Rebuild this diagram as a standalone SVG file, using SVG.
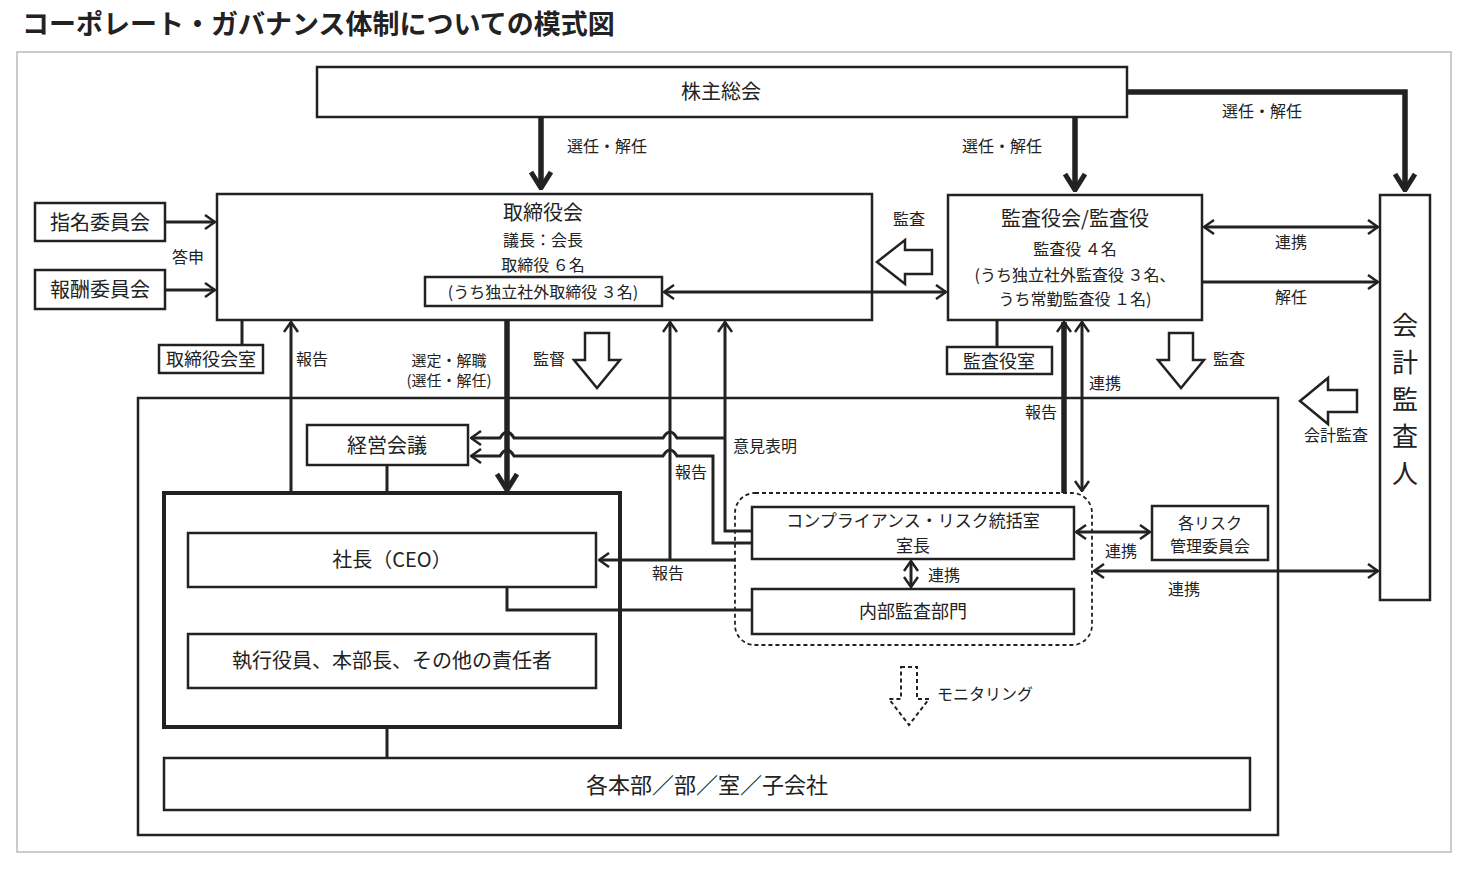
<svg xmlns="http://www.w3.org/2000/svg" width="1470" height="870" viewBox="0 0 1470 870">
<style>
text{font-family:"Noto Sans CJK JP","Noto Sans",sans-serif;fill:#222}
.b{fill:#fff;stroke:#222;stroke-width:2.5}
.l{fill:none;stroke:#222;stroke-width:3}
.t{fill:none;stroke:#222;stroke-width:5.5}
.h{fill:#fff;stroke:#222;stroke-width:2.5}
.lb{font-size:16px}
.n{font-size:20px;text-anchor:middle}
</style>
<defs>
<marker id="a" viewBox="0 0 12 16" refX="11" refY="8" markerWidth="12" markerHeight="16" markerUnits="userSpaceOnUse" orient="auto-start-reverse"><path d="M1,1 L11,8 L1,15" fill="none" stroke="#222" stroke-width="2.5"/></marker>
<marker id="A" viewBox="0 0 20 24" refX="18" refY="12" markerWidth="20" markerHeight="24" markerUnits="userSpaceOnUse" orient="auto"><path d="M2,2 L18,12 L2,22" fill="none" stroke="#222" stroke-width="5"/></marker>
</defs>
<rect width="1470" height="870" fill="#fff"/>
<text x="22" y="34" font-size="27" font-weight="bold">コーポレート・ガバナンス体制についての模式図</text>
<rect x="17" y="52" width="1434" height="800" fill="none" stroke="#bbb" stroke-width="1.5"/>
<g id="outer"><rect x="138" y="398" width="1140" height="437" fill="none" stroke="#222" stroke-width="2.5"/></g>

<g id="hollow">
<path class="h" d="M585,333 H609 V360 H620 L597,388 L574,360 H585 Z"/>
<path class="h" d="M1169,333 H1193 V360 H1204 L1181,388 L1158,360 H1169 Z"/>
<path class="h" d="M932,250 H905 V240 L877,262 L905,284 V274 H932 Z"/>
<path class="h" d="M1357,390 H1328 V378 L1300,401 L1328,424 V412 H1357 Z"/>
<path d="M901,667 H917 V699 H929 L909,725 L889,699 H901 Z" fill="#fff" stroke="#222" stroke-width="2" stroke-dasharray="4,3"/>
</g>

<g id="labels" class="lb">
<text x="567" y="152">選任・解任</text>
<text x="962" y="152">選任・解任</text>
<text x="1222" y="117">選任・解任</text>
<text x="172" y="263">答申</text>
<text x="893" y="225">監査</text>
<text x="801" y="282">連携</text>
<text x="1275" y="248">連携</text>
<text x="1275" y="303">解任</text>
<text x="296" y="365">報告</text>
<text x="449" y="366" font-size="15" text-anchor="middle">選定・解職</text>
<text x="449" y="386" font-size="15" text-anchor="middle">(選任・解任)</text>
<text x="533" y="365">監督</text>
<text x="1213" y="365">監査</text>
<text x="1089" y="389">連携</text>
<text x="1025" y="418">報告</text>
<text x="1304" y="441">会計監査</text>
<text x="733" y="452">意見表明</text>
<text x="675" y="478">報告</text>
<text x="652" y="579">報告</text>
<text x="928" y="581">連携</text>
<text x="1105" y="557">連携</text>
<text x="1168" y="595">連携</text>
<text x="937" y="700">モニタリング</text>
</g>

<g id="n-kabunushi"><rect class="b" x="317" y="67" width="810" height="50"/><text class="n" x="721" y="99">株主総会</text></g>
<g id="n-board"><rect class="b" x="217" y="194" width="655" height="126"/>
<text class="n" x="543" y="220">取締役会</text>
<text x="543" y="246" font-size="16" text-anchor="middle">議長：会長</text>
<text x="543" y="271" font-size="16" text-anchor="middle">取締役 ６名</text>
<rect class="b" x="425" y="277" width="237" height="29" stroke-width="2"/>
<text x="543" y="298" font-size="16" text-anchor="middle">(うち独立社外取締役 ３名)</text></g>
<g id="n-kansayaku"><rect class="b" x="948" y="195" width="254" height="125"/>
<text class="n" x="1075" y="226">監査役会/監査役</text>
<text x="1075" y="255" font-size="16" text-anchor="middle">監査役 ４名</text>
<text x="1075" y="281" font-size="16" text-anchor="middle">(うち独立社外監査役 ３名、</text>
<text x="1075" y="305" font-size="16" text-anchor="middle">うち常勤監査役 １名)</text></g>
<g id="n-kaikei"><rect class="b" x="1380" y="195" width="50" height="405"/>
<text x="1405" y="335" font-size="26" text-anchor="middle">会</text>
<text x="1405" y="372" font-size="26" text-anchor="middle">計</text>
<text x="1405" y="409" font-size="26" text-anchor="middle">監</text>
<text x="1405" y="446" font-size="26" text-anchor="middle">査</text>
<text x="1405" y="483" font-size="26" text-anchor="middle">人</text></g>
<g id="n-shimei"><rect class="b" x="35" y="203" width="130" height="38"/><text class="n" x="100" y="230">指名委員会</text></g>
<g id="n-houshu"><rect class="b" x="35" y="270" width="130" height="39"/><text class="n" x="100" y="297">報酬委員会</text></g>
<g id="n-torishitsu"><rect class="b" x="159" y="345" width="104" height="28"/><text x="211" y="366" font-size="18" text-anchor="middle">取締役会室</text></g>
<g id="n-kansashitsu"><rect class="b" x="947" y="347" width="105" height="27"/><text x="999" y="368" font-size="18" text-anchor="middle">監査役室</text></g>
<g id="n-keiei"><rect class="b" x="307" y="425" width="161" height="40"/><text class="n" x="387" y="453">経営会議</text></g>
<g id="n-exec"><rect x="164" y="493" width="456" height="234" fill="none" stroke="#222" stroke-width="4"/>
<rect class="b" x="188" y="533" width="408" height="54"/><text class="n" x="392" y="567">社長（CEO）</text>
<rect class="b" x="188" y="634" width="408" height="54"/><text class="n" x="392" y="668">執行役員、本部長、その他の責任者</text></g>
<g id="n-honbu"><rect class="b" x="164" y="758" width="1086" height="52"/><text x="707" y="793" font-size="22" text-anchor="middle">各本部／部／室／子会社</text></g>
<g id="n-dotted"><rect x="735" y="493" width="357" height="152" rx="20" fill="none" stroke="#222" stroke-width="1.8" stroke-dasharray="4,3"/></g>
<g id="n-cr"><rect class="b" x="752" y="507" width="322" height="52"/>
<text x="913" y="527" font-size="17" text-anchor="middle">コンプライアンス・リスク統括室</text>
<text x="913" y="552" font-size="17" text-anchor="middle">室長</text></g>
<g id="n-naibu"><rect class="b" x="752" y="589" width="322" height="45"/><text x="913" y="618" font-size="18" text-anchor="middle">内部監査部門</text></g>
<g id="n-risk"><rect class="b" x="1152" y="506" width="116" height="54"/>
<text x="1210" y="529" font-size="16" text-anchor="middle">各リスク</text>
<text x="1210" y="552" font-size="16" text-anchor="middle">管理委員会</text></g>

<g id="connectors">
<path class="t" d="M541,118 V188" marker-end="url(#A)"/>
<path class="t" d="M1075,118 V190" marker-end="url(#A)"/>
<path class="t" d="M1128,92 H1405 V190" marker-end="url(#A)"/>
<path class="t" d="M507,321 V490" marker-end="url(#A)"/>
<path class="l" d="M166,222 H215" marker-end="url(#a)"/>
<path class="l" d="M166,290 H215" marker-end="url(#a)"/>
<path class="l" d="M242,321 V344"/>
<path class="l" d="M997,321 V346"/>
<path class="l" d="M664,292 H946" marker-start="url(#a)" marker-end="url(#a)"/>
<path class="l" d="M1204,227 H1378" marker-start="url(#a)" marker-end="url(#a)"/>
<path class="l" d="M1203,282 H1378" marker-end="url(#a)"/>
<path class="l" d="M291,492 V322" marker-end="url(#a)"/>
<path class="l" d="M387,466 V492"/>
<path class="l" d="M387,729 V757"/>
<path class="l" d="M735,560 H599" marker-end="url(#a)"/>
<path class="l" d="M670,560 V322" marker-end="url(#a)"/>
<path class="l" d="M751,531 H725 V322" marker-end="url(#a)"/>
<path class="l" d="M725,438 H677 q-7,-12 -14,0 H514 q-7,-12 -14,0 H471" marker-end="url(#a)"/>
<path class="l" d="M751,543 H713 V456 H677 q-7,-12 -14,0 H514 q-7,-12 -14,0 H471" marker-end="url(#a)"/>
<path class="l" d="M507,588 V610 H751"/>
<path class="t" d="M1064,493 V322" stroke-width="4" marker-end="url(#a)"/>
<path class="l" d="M1082,322 V491" marker-start="url(#a)" marker-end="url(#a)"/>
<path class="l" d="M1076,532 H1150" stroke-width="4" marker-start="url(#a)" marker-end="url(#a)"/>
<path class="l" d="M1094,571 H1378" marker-start="url(#a)" marker-end="url(#a)"/>
<path class="l" d="M911,561 V587" marker-start="url(#a)" marker-end="url(#a)"/>
</g>
</svg>
